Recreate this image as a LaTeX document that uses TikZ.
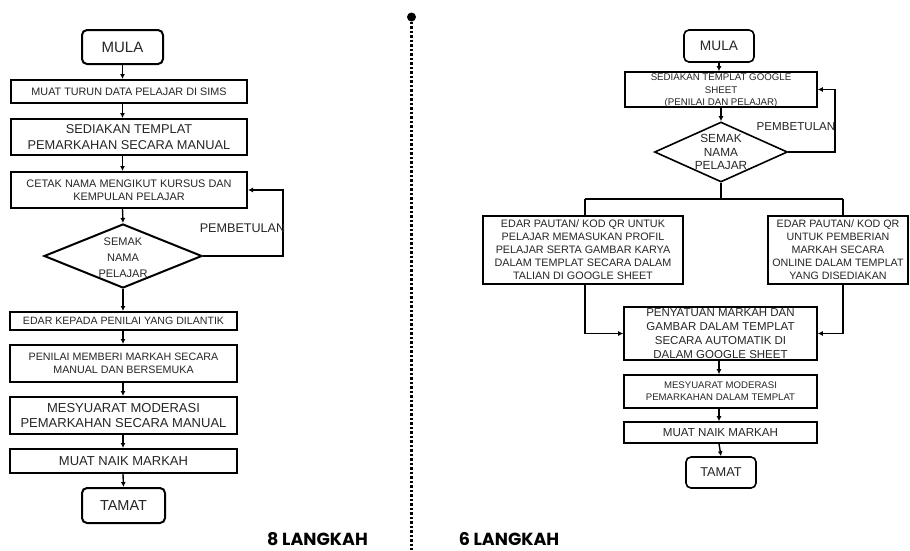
\documentclass[tikz,border=0pt]{standalone}
\usepackage{fontspec}
\setmainfont{Liberation Sans}
\newfontfamily\popfont{Poppins}
\usetikzlibrary{shapes.geometric,arrows.meta}
\definecolor{txtc}{HTML}{262626}
\newcommand{\fs}[2]{\fontsize{#1}{#2}\selectfont}
\tikzset{
  lbox/.style={draw=black, line width=2pt, inner sep=0pt, text=txtc},
  rbox/.style={draw=black, line width=1.6pt, inner sep=0pt, text=txtc},
  rnd/.style={rounded corners=5pt},
  dia/.style={shape=diamond, draw=black, inner sep=0pt, text=txtc},
  lbl/.style={align=center, inner sep=0pt, text=txtc},
  conn/.style={line width=1.4pt, draw=black},
  arr/.style={conn, -{Latex[length=5pt,width=5pt]}},
  lab/.style={inner sep=0pt, text=txtc},
}
\begin{document}
\begin{tikzpicture}[x=1pt,y=-1pt]
\useasboundingbox[fill=white] (0,0) rectangle (910,550);

% ---------------- LEFT ----------------
\node[lbox,rnd,minimum width=81pt,minimum height=34pt,font=\fs{15}{18}] (lm) at (122.5,47) {MULA};
\node[lbox,minimum width=236pt,minimum height=23pt,label={[lbl,font=\fs{10.8}{13}]center:MUAT TURUN DATA PELAJAR DI SIMS}] (l1) at (129,91.5) {};
\node[lbox,minimum width=236pt,minimum height=36pt,label={[lbl,font=\fs{12.8}{16}]center:SEDIAKAN TEMPLAT\\PEMARKAHAN SECARA MANUAL}] (l2) at (129,137) {};
\node[lbox,minimum width=236pt,minimum height=36pt,label={[lbl,font=\fs{10.9}{13}]center:CETAK NAMA MENGIKUT KURSUS DAN\\KEMPULAN PELAJAR}] (l3) at (129,190) {};
\node[dia,line width=2pt,minimum width=158pt,minimum height=64pt,label={[lbl,font=\fs{11}{16},yshift=-2pt]center:SEMAK\\NAMA\\PELAJAR}] (ld) at (123,256) {};
\node[lbox,minimum width=227pt,minimum height=18pt,label={[lbl,font=\fs{10.6}{13}]center:EDAR KEPADA PENILAI YANG DILANTIK}] (l4) at (123.5,321) {};
\node[lbox,minimum width=227pt,minimum height=37pt,label={[lbl,font=\fs{10.7}{13}]center:PENILAI MEMBERI MARKAH SECARA\\MANUAL DAN BERSEMUKA}] (l5) at (123.5,363.5) {};
\node[lbox,minimum width=227pt,minimum height=37pt,label={[lbl,font=\fs{13}{15}]center:MESYUARAT MODERASI\\PEMARKAHAN SECARA MANUAL}] (l6) at (123.5,415.5) {};
\node[lbox,minimum width=227pt,minimum height=24pt,label={[lbl,font=\fs{13}{15}]center:MUAT NAIK MARKAH}] (l7) at (123.5,461) {};
\node[lbox,rnd,minimum width=83pt,minimum height=35pt,font=\fs{14.5}{17}] (lt) at (123.5,505.5) {TAMAT};

\draw[arr] (lm.south) -- (lm.south |- l1.north);
\draw[arr] (lm.south |- l1.south) -- (lm.south |- l2.north);
\draw[arr] (lm.south |- l2.south) -- (lm.south |- l3.north);
\draw[arr] (lm.south |- l3.south) -- (ld.north);
\draw[arr] (ld.south) -- (ld.south |- l4.north);
\draw[arr] (ld.south |- l4.south) -- (ld.south |- l5.north);
\draw[arr] (ld.south |- l5.south) -- (ld.south |- l6.north);
\draw[arr] (ld.south |- l6.south) -- (ld.south |- l7.north);
\draw[arr] (ld.south |- l7.south) -- (lt.north);
\coordinate (lfb) at (283,0);
\draw[arr] (ld.east) -- (lfb |- ld.east) -- (lfb |- l3.east) -- (l3.east);
\node[lab,font=\fs{12.6}{15}] (lpb) at (242.5,228) {PEMBETULAN};

% ---------------- RIGHT ----------------
\node[rbox,rnd,minimum width=70pt,minimum height=32pt,font=\fs{13.7}{16}] (rm) at (719,46) {MULA};
\node[rbox,minimum width=192pt,minimum height=35pt,label={[lbl,font=\fs{9.7}{12.5},yshift=-1.5pt]center:SEDIAKAN TEMPLAT GOOGLE\\SHEET\\(PENILAI DAN PELAJAR)}] (r1) at (721,89.5) {};
\node[dia,line width=1.6pt,minimum width=133pt,minimum height=60pt,label={[lbl,font=\fs{11.8}{13.5}]center:SEMAK\\NAMA\\PELAJAR}] (rd) at (721,152) {};
\node[rbox,minimum width=200pt,minimum height=68pt,label={[lbl,font=\fs{10.8}{13}]center:EDAR PAUTAN/ KOD QR UNTUK\\PELAJAR MEMASUKAN PROFIL\\PELAJAR SERTA GAMBAR KARYA\\DALAM TEMPLAT SECARA DALAM\\TALIAN DI GOOGLE SHEET}] (ra) at (583,250) {};
\node[rbox,minimum width=140pt,minimum height=68pt,label={[lbl,font=\fs{10.7}{13}]center:EDAR PAUTAN/ KOD QR\\UNTUK PEMBERIAN\\MARKAH SECARA\\ONLINE DALAM TEMPLAT\\YANG DISEDIAKAN}] (rb) at (838,250) {};
\node[rbox,minimum width=193pt,minimum height=53pt,label={[lbl,font=\fs{11.5}{14}]center:PENYATUAN MARKAH DAN\\GAMBAR DALAM TEMPLAT\\SECARA AUTOMATIK DI\\DALAM GOOGLE SHEET}] (rc) at (720.5,333.5) {};
\node[rbox,minimum width=193pt,minimum height=33pt,label={[lbl,font=\fs{9.6}{12}]center:MESYUARAT MODERASI\\PEMARKAHAN DALAM TEMPLAT}] (r2) at (720.5,391.5) {};
\node[rbox,minimum width=193pt,minimum height=21pt,label={[lbl,font=\fs{11.6}{14}]center:MUAT NAIK MARKAH}] (r3) at (720.5,432.5) {};
\node[rbox,rnd,minimum width=70pt,minimum height=31pt,font=\fs{12.8}{15}] (rt) at (721,472.5) {TAMAT};

\draw[arr] (rm.south) -- (rm.south |- r1.north);
\draw[arr] (rd.north |- r1.south) -- (rd.north);
\coordinate (rfb) at (835,0);
\draw[arr] (rd.east) -- (rfb |- rd.east) -- (rfb |- r1.east) -- (r1.east);
\node[lab,font=\fs{11.6}{14}] (rpb) at (796,127) {PEMBETULAN};

\coordinate (bj) at (721,199);
\coordinate (bl) at (585,199);
\coordinate (br) at (843,199);
\draw[conn] (rd.south) -- (bj);
\draw[conn] (bl) -- (br);
\draw[conn] (bl) -- (bl |- ra.north);
\draw[conn] (br) -- (br |- rb.north);
\draw[arr] (bl |- ra.south) -- (bl |- rc.west) -- (rc.west);
\draw[arr] (br |- rb.south) -- (br |- rc.east) -- (rc.east);
\draw[arr] (rc.south -| rm.south) -- (rm.south |- r2.north);
\draw[arr] (rm.south |- r2.south) -- (rm.south |- r3.north);
\draw[arr] (rm.south |- r3.south) -- (rt.north);

% ---------------- DIVIDER & LABELS ----------------
\node[circle,fill=black,inner sep=0pt,minimum size=9pt] (dot) at (411.5,17) {};
\coordinate (dend) at (411.5,550);
\draw[line width=2.2pt,dash pattern=on 2.5pt off 2pt] (dot.center) -- (dend);
\node[lab,text=black,font=\popfont\bfseries\fs{17.5}{20}] (s8) at (317.5,539) {8 LANGKAH};
\node[lab,text=black,font=\popfont\bfseries\fs{17.5}{20}] (s6) at (509,539) {6 LANGKAH};
\end{tikzpicture}
\end{document}
